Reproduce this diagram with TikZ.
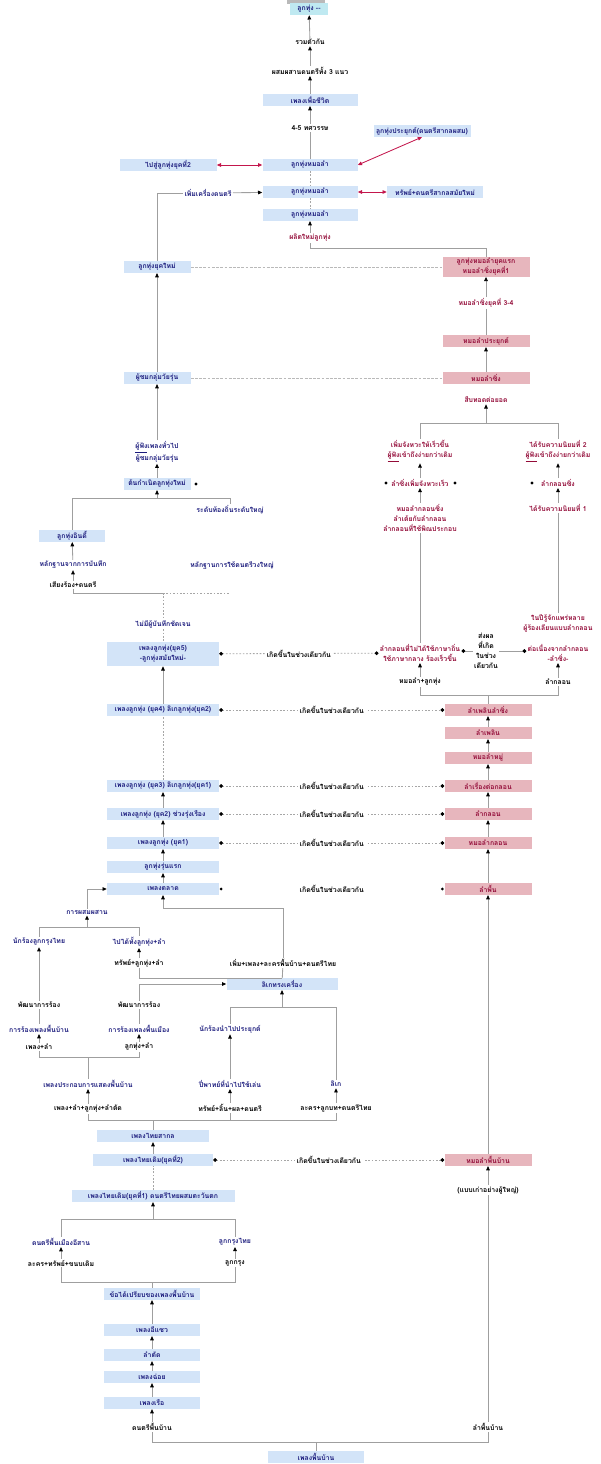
\documentclass[tikz,border=0pt]{standalone}
\usepackage{fontspec}
\newfontfamily\thaifont[Script=Thai]{Loma}
\usetikzlibrary{arrows.meta,calc}
\definecolor{boxblue}{HTML}{D3E4F8}
\definecolor{boxred}{HTML}{E7B6BD}
\definecolor{topcyan}{HTML}{BFE9F1}
\definecolor{inkblue}{HTML}{1A1A7C}
\definecolor{inkred}{HTML}{930B38}
\definecolor{dualred}{HTML}{C3164C}
\tikzset{
  txt/.style={font=\thaifont\bfseries\fontsize{4.9}{7.2}\selectfont, align=center},
  bw/.style={minimum width=#1*0.025cm},
  bluebox/.style={txt, fill=boxblue, text=inkblue, minimum height=0.29cm, inner sep=0.6pt},
  redbox/.style={txt, fill=boxred, text=inkred, minimum height=0.29cm, inner sep=0.6pt},
  topbox/.style={txt, fill=topcyan, text=inkblue, minimum height=0.3cm, inner sep=0.6pt},
  note/.style={txt, text=black, inner sep=0.8pt},
  bnote/.style={note, text=inkblue},
  rnote/.style={note, text=inkred},
  gap/.style={note, fill=white, inner sep=1.5pt},
  link/.style={draw=gray!75, line width=0.6pt},
  arrow/.style={link, -{Triangle[length=3pt,width=2.6pt,color=black]}},
  dual/.style={draw=dualred, line width=0.6pt, {Triangle[length=3pt,width=2.6pt]}-{Triangle[length=3pt,width=2.6pt]}},
  dotline/.style={draw=gray!70, line width=0.6pt, dash pattern=on 1.2pt off 1.2pt},
  dotlink/.style={dotline, {Circle[length=2.6pt,color=black]}-{Circle[length=2.6pt,color=black]}},
  sidelink/.style={link, -{Circle[length=2.6pt,color=black]}},
  faint/.style={draw=gray!55, line width=0.5pt, dash pattern=on 2pt off 1pt}
}
\begin{document}
\begin{tikzpicture}[x=0.025cm, y=-0.025cm]
  \useasboundingbox (0,0) rectangle (600,1464);
  % top of the tree
  \fill[gray!55] (287,0) rectangle (325,4);
  \node[topbox, bw=38] (peak) at (309,9) {ลูกทุ่ง --};
  \node[note] (merge) at (310,42) {รวมตัวกัน};
  \node[note] (mix) at (310,71) {ผสมผสานดนตรีทั้ง 3 แนว};
  \node[bluebox, bw=95] (life) at (310,100) {เพลงเพื่อชีวิต};
  \node[note] (decade) at (310,128) {4-5 ทศวรรษ};
  \node[bluebox, bw=95] (mid1) at (310,165) {ลูกทุ่งหมอลำ};
  \node[bluebox, bw=97] (side1) at (168,165) {ไปสู่ลูกทุ่งยุคที่2};
  \node[bluebox, bw=97] (side2) at (422,131) {ลูกทุ่งประยุกต์(ดนตรีสากลผสม)};
  \node[bluebox, bw=95] (mid2) at (310,192) {ลูกทุ่งหมอลำ};
  \node[bnote] (addins) at (208,193) {เพิ่มเครื่องดนตรี};
  \node[bluebox, bw=96] (side3) at (435,192) {ทรัพย์+ดนตรีสากลสมัยใหม่};
  \node[bluebox, bw=95] (mid3) at (310,215) {ลูกทุ่งหมอลำ};
  \node[rnote] (reborn) at (310,238) {ผลิตใหม่ลูกทุ่ง};
  \draw[arrow] (merge) -- (peak);
  \draw[arrow] (mix) -- (merge);
  \draw[arrow] (life) -- (mix);
  \draw[arrow] (decade) -- (life);
  \draw[link] (mid1) -- (decade);
  \draw[dual] (side1) -- (mid1);
  \draw[dual] (mid1.east) -- (side2.south);
  \draw[dotline] (mid1) -- (mid2);
  \draw[dotline] (mid2) -- (mid3);
  \draw[dual] (mid2) -- (side3);
  \draw[arrow] (addins) -- (mid2);
  \draw[arrow] (reborn) -- (mid3);

  % red column
  \node[redbox, bw=87] (lam1) at (486,267) {ลูกทุ่งหมอลำยุคแรก\\หมอลำซิ่งยุคที่1};
  \coordinate (turn) at (486,248);
  \draw[link] (reborn.south) |- (turn) -- (lam1.north);
  \node[rnote] (lamfour) at (486,303) {หมอลำซิ่งยุคที่ 3-4};
  \node[redbox, bw=87] (lam2) at (486,341) {หมอลำประยุกต์};
  \node[redbox, bw=87] (lam3) at (486,378) {หมอลำซิ่ง};
  \node[rnote] (lamdown) at (486,400) {สืบทอดต่อยอด};
  \draw[arrow] (lamfour) -- (lam1);
  \draw[link] (lam2) -- (lamfour);
  \draw[arrow] (lam3) -- (lam2);
  \coordinate (fork) at (486,423);
  \coordinate (forkL) at (420,423);
  \coordinate (forkR) at (558,423);
  \draw[arrow] (fork) -- (lamdown);
  \draw[link] (forkL) -- (forkR);

  % left branch
  \node[rnote] (fastA) at (420,451) {เพิ่มจังหวะให้เร็วขึ้น\\\underline{ผู้ฟัง}เข้าถึงง่ายกว่าเดิม};
  \node[rnote] (fastB) at (420,483) {ลำซิ่งเพิ่มจังหวะเร็ว};
  \node[rnote] (fastC) at (420,518) {หมอลำกลอนซิ่ง\\ลำเต้ยกับลำกลอน\\ลำกลอนที่ใช้พิณประกอบ};
  \node[rnote] (fastD) at (420,653) {ลำกลอนที่ไม่ได้ใช้ภาษาถิ่น\\ใช้ภาษากลาง ร้องเร็วขึ้น};
  \node[note] (fastE) at (420,682) {หมอลำ+ลูกทุ่ง};
  \fill (386,483) circle (1.1pt) (455,483) circle (1.1pt);
  \draw[link] (forkL) -- (fastA);
  \draw[arrow] (fastB) -- (fastA);
  \draw[arrow] (fastC) -- (fastB);
  \draw[link] (fastD) -- (fastC);
  \draw[arrow] (fastE) -- (fastD);

  % right branch
  \node[rnote] (slowA) at (558,451) {ได้รับความนิยมที่ 2\\\underline{ผู้ฟัง}เข้าถึงง่ายกว่าเดิม};
  \node[rnote] (slowB) at (558,483) {ลำกลอนซิ่ง};
  \node[rnote] (slowC) at (558,508) {ได้รับความนิยมที่ 1};
  \node[rnote] (slowD) at (558,623) {ในปีรู้จักแพร่หลาย\\ผู้ร้องเลียนแบบลำกลอน};
  \node[rnote] (slowE) at (558,653) {ต่อเนื่องจากลำกลอน\\-ลำซิ่ง-};
  \node[note] (slowF) at (558,682) {ลำกลอน};
  \fill (532,483) circle (1.1pt);
  \draw[link] (forkR) -- (slowA);
  \draw[arrow] (slowB) -- (slowA);
  \draw[arrow] (slowC) -- (slowB);
  \draw[link] (slowD) -- (slowC);
  \draw[arrow] (slowF) -- (slowE);
  \node[note] (split) at (486,651) {ส่งผล\\ที่เกิด\\ในช่วง\\เดียวกัน};
  \draw[sidelink] (split.west) -- (split.west -| fastD.east);
  \draw[sidelink] (split.east) -- (split.east -| slowE.west);

  % red column, lower part
  \node[redbox, bw=87] (lam4) at (488,710) {ลำเพลินลำซิ่ง};
  \coordinate (joinL) at (420,695);
  \coordinate (joinR) at (558,695);
  \coordinate (join) at (488,695);
  \draw[link] (fastE) -- (joinL) -- (joinR) -- (slowF);
  \draw[link] (lam4) -- (join);
  \node[redbox, bw=87] (lam5) at (488,733) {ลำเพลิน};
  \node[redbox, bw=87] (lam6) at (488,758) {หมอลำหมู่};
  \node[redbox, bw=87] (lam7) at (488,786) {ลำเรื่องต่อกลอน};
  \node[redbox, bw=87] (lam8) at (488,814) {ลำกลอน};
  \node[redbox, bw=87] (lam9) at (488,843) {หมอลำกลอน};
  \node[redbox, bw=87] (lam10) at (488,889) {ลำพื้น};
  \node[redbox, bw=87] (lam11) at (488,1160) {หมอลำพื้นบ้าน};
  \node[note] (oldstyle) at (488,1190) {(แบบเก่าอย่างผู้ใหญ่)};
  \node[note] (lamroot) at (488,1427) {ลำพื้นบ้าน};
  \draw[arrow] (lam5) -- (lam4);
  \draw[arrow] (lam6) -- (lam5);
  \draw[arrow] (lam7) -- (lam6);
  \draw[arrow] (lam8) -- (lam7);
  \draw[arrow] (lam9) -- (lam8);
  \draw[arrow] (lam10) -- (lam9);
  \draw[arrow] (lam11) -- (lam10);
  \draw[arrow] (oldstyle) -- (lam11);
  \draw[link] (lamroot) -- (oldstyle);

  % left column, upper part
  \node[bluebox, bw=67] (new) at (157,267) {ลูกทุ่งยุคใหม่};
  \node[bluebox, bw=67] (teen) at (157,378) {ผู้ชมกลุ่มวัยรุ่น};
  \node[bnote] (fans) at (157,452) {\underline{ผู้ฟัง}เพลงทั่วไป\\ผู้ชมกลุ่มวัยรุ่น};
  \node[bluebox, bw=67] (origin) at (157,484) {ต้นกำเนิดลูกทุ่งใหม่};
  \fill (196,484) circle (1.1pt);
  \node[bnote] (scale) at (230,510) {ระดับท้องถิ่นระดับใหญ่};
  \node[bluebox, bw=66] (indie) at (72,536) {ลูกทุ่งอินดี้};
  \node[bnote] (proofA) at (73,565) {หลักฐานจากการบันทึก};
  \node[note] (voice) at (73,585) {เสียงร้อง+ดนตรี};
  \node[bnote] (proofB) at (232,565) {หลักฐานการใช้ดนตรีวงใหญ่};
  \node[bnote] (unknown) at (163,624) {ไม่มีผู้บันทึกชัดเจน};
  \node[bluebox, bw=112, minimum height=0.6cm] (era5) at (163,654) {เพลงลูกทุ่ง(ยุค5)\\-ลูกทุ่งสมัยใหม่-};
  \draw[link] (new.north) |- (addins.west);
  \draw[faint] (new) -- (lam1);
  \draw[arrow] (teen) -- (new);
  \draw[faint] (teen) -- (lam3);
  \draw[arrow] (fans) -- (teen);
  \draw[arrow] (origin) -- (fans);
  \coordinate (orgL) at (72,498);
  \coordinate (orgR) at (230,498);
  \coordinate (org) at (157,498);
  \draw[link] (indie) -- (orgL) -- (orgR) -- (scale);
  \draw[arrow] (org) -- (origin);
  \draw[arrow] (proofA) -- (indie);
  \draw[arrow] (voice) -- (proofA);
  \coordinate (baseL) at (73,593);
  \coordinate (baseM) at (163,593);
  \coordinate (baseR) at (230,593);
  \draw[link] (voice) -- (baseL) -- (baseM);
  \draw[dotline] (baseM) -- (baseR);
  \draw[dotline] (baseM) -- (unknown);
  \draw[dotline] (unknown) -- (era5);
  \draw[dotlink] (era5) -- node[gap] {เกิดขึ้นในช่วงเดียวกัน} (fastD);

  % left column, middle part
  \node[bluebox, bw=112] (era4) at (163,710) {เพลงลูกทุ่ง (ยุค4) ลิเกลูกทุ่ง(ยุค2)};
  \node[bluebox, bw=112] (era3) at (163,786) {เพลงลูกทุ่ง (ยุค3) ลิเกลูกทุ่ง(ยุค1)};
  \node[bluebox, bw=112] (era2) at (163,814) {เพลงลูกทุ่ง (ยุค2) ช่วงรุ่งเรือง};
  \node[bluebox, bw=112] (era1) at (163,843) {เพลงลูกทุ่ง (ยุค1)};
  \node[bluebox, bw=112] (early) at (163,867) {ลูกทุ่งรุ่นแรก};
  \node[bluebox, bw=112] (market) at (163,889) {เพลงตลาด};
  \draw[arrow] (era4) -- (era5);
  \draw[dotline] (era3) -- (era4);
  \draw[arrow] (era2) -- (era3);
  \draw[arrow] (era1) -- (era2);
  \draw[arrow] (early) -- (era1);
  \draw[arrow] (market) -- (early);
  \draw[dotlink] (era4) -- node[gap] {เกิดขึ้นในช่วงเดียวกัน} (lam4);
  \draw[dotlink] (era3) -- node[gap] {เกิดขึ้นในช่วงเดียวกัน} (lam7);
  \draw[dotlink] (era2) -- node[gap] {เกิดขึ้นในช่วงเดียวกัน} (lam8);
  \draw[dotlink] (era1) -- node[gap] {เกิดขึ้นในช่วงเดียวกัน} (lam9);
  \path (market) -- node[gap] {เกิดขึ้นในช่วงเดียวกัน} (lam10);
  \fill ([xshift=1.3pt]market.east) circle (1.1pt) ([xshift=-1.3pt]lam10.west) circle (1.1pt);

  % left column, lower part
  \node[bnote] (blend) at (87,912) {การผสมผสาน};
  \draw[arrow] (blend.north) |- (market.west);
  \node[bnote] (singer) at (39,942) {นักร้องลูกกรุงไทย};
  \node[bnote] (bothway) at (139,942) {ไปได้ทั้งลูกทุ่ง+ลำ};
  \coordinate (blL) at (39,927);
  \coordinate (blR) at (139,927);
  \coordinate (bl) at (87,927);
  \draw[link] (singer) -- (blL) -- (blR) -- (bothway);
  \draw[arrow] (bl) -- (blend);
  \node[note] (mixA) at (139,963) {ทรัพย์+ลูกทุ่ง+ลำ};
  \node[bluebox, bw=111] (likay) at (282,984) {ลิเกทรงเครื่อง};
  \node[note] (mixB) at (283,963) {เพิ่ม+เพลง+ละครพื้นบ้าน+ดนตรีไทย};
  \coordinate (upturn) at (283,908);
  \draw[arrow] (mixB.north) -- (upturn) -| (market.south);
  \draw[link] (likay) -- (mixB);
  \draw[arrow] (mixA) -- (bothway);
  \draw[link] (mixA.south) |- (likay.north);
  \node[note] (devA) at (39,1005) {พัฒนาการร้อง};
  \node[note] (devB) at (139,1005) {พัฒนาการร้อง};
  \draw[arrow] (devA) -- (singer);
  \draw[arrow] (devB.north) |- (likay.west);
  \node[bnote] (spreadA) at (39,1029) {การร้องเพลงพื้นบ้าน};
  \node[bnote] (spreadB) at (139,1029) {การร้องเพลงพื้นเมือง};
  \draw[link] (spreadA) -- (devA);
  \draw[link] (spreadB) -- (devB);
  \node[note] (pairA) at (39,1047) {เพลง+ลำ};
  \node[note] (pairB) at (139,1047) {ลูกทุ่ง+ลำ};
  \draw[arrow] (pairA) -- (spreadA);
  \draw[arrow] (pairB) -- (spreadB);
  \coordinate (prL) at (39,1057);
  \coordinate (prR) at (139,1057);
  \coordinate (pr) at (88,1057);
  \draw[link] (pairA) -- (prL) -- (prR) -- (pairB);
  \node[bnote] (stage) at (88,1084) {เพลงประกอบการแสดงพื้นบ้าน};
  \node[note] (stageA) at (88,1109) {เพลง+ลำ+ลูกทุ่ง+ลำตัด};
  \draw[link] (stage) -- (pr);
  \draw[arrow] (stageA) -- (stage);
  \node[bnote] (apply) at (230,1029) {นักร้องนำไปประยุกต์};
  \node[bnote] (piphat) at (230,1084) {ปี่พาทย์ที่นำไปใช้เล่น};
  \node[note] (piphatA) at (230,1108) {ทรัพย์+ลิ้น+ผล+ดนตรี};
  \node[bnote] (likeroot) at (336,1084) {ลิเก};
  \node[note] (likerootA) at (336,1108) {ละคร+ลูกบท+ดนตรีไทย};
  \coordinate (lkL) at (230,1007);
  \coordinate (lkR) at (336,1007);
  \coordinate (lk) at (282,1007);
  \draw[link] (apply) -- (lkL) -- (lkR) -- (likeroot);
  \draw[arrow] (lk) -- (likay);
  \draw[arrow] (piphat) -- (apply);
  \draw[arrow] (piphatA) -- (piphat);
  \draw[arrow] (likerootA) -- (likeroot);
  \coordinate (rtL) at (88,1120);
  \coordinate (rtR) at (336,1120);
  \coordinate (rt) at (153,1120);
  \draw[link] (stageA) -- (rtL) -- (rtR) -- (likerootA);
  \draw[link] (piphatA) -- (piphatA |- rt);

  % bottom part
  \node[bluebox, bw=112] (intl) at (153,1136) {เพลงไทยสากล};
  \node[bluebox, bw=120] (classic2) at (153,1160) {เพลงไทยเดิม(ยุคที่2)};
  \node[bluebox, bw=163] (classic1) at (153,1196) {เพลงไทยเดิม(ยุคที่1) ดนตรีไทยผสมตะวันตก};
  \draw[link] (intl) -- (rt);
  \draw[arrow] (classic2) -- (intl);
  \draw[dotlink] (classic2) -- node[gap] {เกิดขึ้นในช่วงเดียวกัน} (lam11);
  \draw[dotline] (classic1) -- (classic2);
  \coordinate (cfL) at (61,1219);
  \coordinate (cfR) at (235,1219);
  \coordinate (cf) at (153,1219);
  \draw[arrow] (cf) -- (classic1);
  \node[bnote] (folkA) at (61,1242) {ดนตรีพื้นเมืองอีสาน};
  \node[bnote] (folkB) at (235,1242) {ลูกกรุงไทย};
  \node[note] (folkA2) at (61,1263) {ละคร+ทรัพย์+ขนบเดิม};
  \node[note] (folkB2) at (235,1263) {ลูกกรุง};
  \draw[link] (folkA) -- (cfL) -- (cfR) -- (folkB);
  \draw[arrow] (folkA2) -- (folkA);
  \draw[arrow] (folkB2) -- (folkB);
  \coordinate (ffL) at (61,1282);
  \coordinate (ffR) at (235,1282);
  \coordinate (ff) at (152,1282);
  \draw[link] (folkA2) -- (ffL) -- (ffR) -- (folkB2);
  \node[bluebox, bw=96] (edge) at (152,1294) {ข้อได้เปรียบของเพลงพื้นบ้าน};
  \draw[link] (edge) -- (ff);
  \node[bluebox, bw=96] (song1) at (152,1330) {เพลงอีแซว};
  \node[bluebox, bw=96] (song2) at (152,1355) {ลำตัด};
  \node[bluebox, bw=96] (song3) at (152,1377) {เพลงฉ่อย};
  \node[bluebox, bw=96] (song4) at (152,1403) {เพลงเรือ};
  \node[note] (folkroot) at (152,1427) {ดนตรีพื้นบ้าน};
  \draw[arrow] (song1) -- (edge);
  \draw[arrow] (song2) -- (song1);
  \draw[arrow] (song3) -- (song2);
  \draw[arrow] (song4) -- (song3);
  \draw[arrow] (folkroot) -- (song4);
  \node[bluebox, bw=96] (root) at (316,1457) {เพลงพื้นบ้าน};
  \coordinate (btL) at (152,1442);
  \coordinate (btR) at (488,1442);
  \coordinate (bt) at (316,1442);
  \draw[link] (folkroot) -- (btL) -- (btR) -- (lamroot);
  \draw[link] (root) -- (bt);
\end{tikzpicture}
\end{document}
